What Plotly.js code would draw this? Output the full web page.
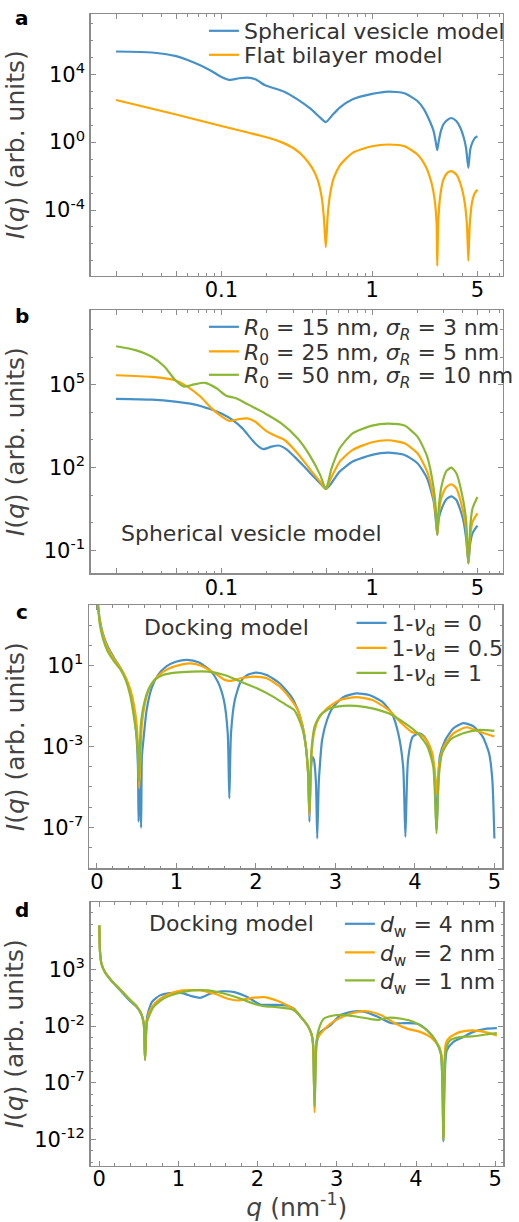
<!DOCTYPE html>
<html><head><meta charset="utf-8">
<script src="https://cdn.plot.ly/plotly-3.0.1.min.js"></script>
<style>html,body{margin:0;padding:0;background:#fff;}#chart{width:519px;height:1222px;}</style>
</head><body><div id="chart"></div>
<script>
// ---------- Panel a ----------
const qVesicleA = [0.02,0.0345,0.0493,0.0657,0.0841,0.1,0.113,0.131,0.149,0.168,0.195,0.221,0.263,0.32,0.39,0.453,0.493,0.539,0.61,0.743,1.0,1.28,1.64,2.0,2.21,2.44,2.56,2.64,2.706,2.77,2.86,2.97,3.15,3.36,3.62,3.85,4.06,4.2,4.352,4.48,4.64,4.83,5.0];
const IVesicleA = [2.19e5,1.91e5,1.20e5,4.9e4,1.74e4,6.9e3,4.7e3,5.8e3,6.3e3,5.0e3,2.24e3,1.55e3,912,331,93,27.5,15.1,34.7,107,331,692,955,759,263,85,13.8,4.47,1.15,0.339,1.15,4.47,11.0,20.0,26.3,17.4,7.08,1.82,0.468,0.0302,0.372,1.0,1.82,2.24];
const qFlatA = [0.02,0.0493,0.1,0.152,0.205,0.25,0.305,0.354,0.40,0.435,0.462,0.478,0.493,0.507,0.526,0.557,0.61,0.743,1.0,1.28,1.64,2.0,2.264,2.463,2.60,2.679,2.706,2.746,2.83,2.972,3.155,3.364,3.624,3.904,4.121,4.267,4.352,4.439,4.597,4.806,5.0];
const IFlatA = [302,43.7,8.91,3.55,1.82,1.0,0.407,0.129,0.0302,6.17e-3,6.46e-4,4.27e-5,6.46e-7,4.27e-5,8.13e-4,7.76e-3,0.0417,0.234,0.575,0.724,0.575,0.186,0.038,4.9e-3,4.07e-4,1.7e-5,5.13e-8,1.7e-5,6.46e-4,6.17e-3,0.0155,0.0195,0.0123,2.51e-3,2.57e-4,1.07e-5,1.05e-7,1.07e-5,2.57e-4,1.0e-3,1.58e-3];
const namesA = ['Spherical vesicle model','Flat bilayer model'];

// ---------- Panel b ----------
const qB15 = [0.02,0.0345,0.0493,0.0657,0.0841,0.1,0.119,0.138,0.160,0.177,0.190,0.215,0.240,0.269,0.305,0.354,0.410,0.464,0.493,0.525,0.61,0.743,1.0,1.28,1.64,2.0,2.32,2.563,2.639,2.706,2.773,2.9,3.124,3.364,3.624,4.0,4.205,4.352,4.483,4.642,5.0];
const IB15 = [3.09e4,2.88e4,2.45e4,1.95e4,1.32e4,9.12e3,5.25e3,2.63e3,1.0e3,575,468,575,631,468,251,110,46.8,23.4,17.0,23.4,72.4,166,288,347,288,145,40.7,5.89,1.48,0.372,1.48,3.39,7.41,9.12,6.76,1.48,0.282,0.0347,0.186,0.427,0.794];
const qB25 = [0.02,0.0345,0.0493,0.0594,0.0725,0.0841,0.0975,0.113,0.131,0.149,0.168,0.195,0.226,0.263,0.32,0.39,0.453,0.493,0.539,0.61,0.743,1.0,1.28,1.64,2.0,2.32,2.563,2.639,2.706,2.773,2.9,3.124,3.364,3.624,4.0,4.205,4.352,4.483,4.642,5.0];
const IB25 = [2.19e5,1.91e5,1.45e5,8.51e4,3.72e4,1.58e4,7.94e3,4.9e3,5.75e3,6.03e3,4.57e3,2.29e3,1.45e3,1.0e3,331,83.2,30.9,17.0,46.8,166,437,832,977,759,331,72.4,7.76,2.24,0.372,2.24,8.91,20.4,25.1,17.8,2.95,0.631,0.0347,0.355,1.12,2.24];
const qB50 = [0.02,0.0269,0.0345,0.042,0.0493,0.0566,0.0657,0.078,0.0929,0.1077,0.125,0.152,0.195,0.25,0.32,0.39,0.453,0.493,0.539,0.61,0.743,1.0,1.28,1.64,2.0,2.32,2.563,2.639,2.706,2.773,2.9,3.124,3.364,3.624,4.0,4.205,4.352,4.483,4.642,5.0];
const IB50 = [2.45e6,1.78e6,1.02e6,4.47e5,1.48e5,8.51e4,1.02e5,1.17e5,7.41e4,3.98e4,3.24e4,1.86e4,9.12e3,3.98e3,1.15e3,251,53.7,17.0,95.5,501,1.74e3,3.31e3,3.89e3,3.31e3,1.32e3,251,17.8,3.98,0.372,3.98,23.4,77.6,100,63.1,7.76,1.26,0.0347,0.794,3.39,8.71];
const namesB = ['<i>R</i><sub>0</sub> = 15 nm, <i>σ</i><sub><i>R</i></sub> = 3 nm',
                '<i>R</i><sub>0</sub> = 25 nm, <i>σ</i><sub><i>R</i></sub> = 5 nm',
                '<i>R</i><sub>0</sub> = 50 nm, <i>σ</i><sub><i>R</i></sub> = 10 nm'];

// ---------- Panel c ----------
const qC0 = [0.012,0.033,0.073,0.135,0.217,0.298,0.36,0.421,0.461,0.494,0.515,0.523,0.535,0.555,0.565,0.584,0.625,0.686,0.767,0.869,0.991,1.135,1.278,1.42,1.52,1.596,1.645,1.665,1.686,1.734,1.808,1.89,2.004,2.135,2.297,2.444,2.526,2.588,2.628,2.656,2.673,2.69,2.71,2.73,2.755,2.771,2.79,2.803,2.832,2.894,2.974,3.097,3.26,3.424,3.587,3.709,3.79,3.852,3.88,3.913,3.974,4.056,4.117,4.18,4.24,4.272,4.313,4.382,4.485,4.607,4.73,4.852,4.933,4.974,5.0];
const IC0 = [1.1e4,2.29e3,417,91.2,24.0,7.59,2.45,0.437,0.0661,4.57e-3,1e-4,1.91e-7,3.16e-5,9.55e-8,3.16e-4,2.14e-3,0.0661,0.776,3.55,9.33,16.2,20.0,15.1,6.31,1.66,0.204,4.57e-3,2.75e-6,4.57e-3,0.204,1.66,3.55,4.68,3.55,1.38,0.302,0.0661,0.01,1e-3,4.79e-5,1.91e-7,6.31e-5,3.16e-4,2.19e-4,1.58e-5,2.82e-8,1.58e-5,1e-4,2.14e-3,0.0209,0.0955,0.282,0.437,0.363,0.17,0.0447,4.57e-3,1e-4,3.39e-8,2.19e-4,3.16e-3,4.57e-3,3.16e-3,1e-3,1e-4,7.41e-8,3.16e-4,2.14e-3,8.13e-3,0.0145,0.0105,3.16e-3,4.68e-4,2.24e-5,2.82e-8];
const qC05 = [0.012,0.033,0.073,0.135,0.217,0.298,0.36,0.421,0.461,0.502,0.531,0.563,0.604,0.666,0.767,0.91,1.073,1.175,1.318,1.481,1.604,1.685,1.808,1.971,2.135,2.297,2.46,2.526,2.588,2.628,2.656,2.673,2.698,2.73,2.79,2.894,3.056,3.26,3.464,3.668,3.831,3.954,4.076,4.158,4.219,4.252,4.272,4.301,4.362,4.485,4.648,4.81,5.0];
const IC05 = [1.1e4,1.91e3,347,75.9,21.4,7.59,2.75,0.646,0.141,0.01,8.51e-6,0.01,0.141,0.955,3.16,7.59,12.0,13.5,10,4.37,2.04,1.82,2.45,2.95,2.45,0.955,0.17,0.0661,0.01,1e-3,4.79e-5,3.63e-7,3.16e-4,4.57e-3,0.0251,0.0794,0.204,0.282,0.204,0.0661,0.0145,5.5e-3,3.8e-3,1.78e-3,4.68e-4,4.79e-5,4.9e-6,1e-4,1e-3,4.57e-3,9.12e-3,5.5e-3,3.16e-3];
const qC1 = [0.012,0.033,0.073,0.135,0.217,0.298,0.36,0.421,0.47,0.51,0.527,0.55,0.584,0.645,0.727,0.829,0.991,1.196,1.40,1.604,1.808,2.012,2.215,2.379,2.481,2.526,2.588,2.628,2.656,2.673,2.698,2.738,2.811,2.934,3.097,3.26,3.464,3.668,3.872,4.035,4.158,4.231,4.272,4.301,4.342,4.443,4.607,4.81,5.0];
const IC1 = [1.1e4,1.32e3,234,51.3,16.2,6.31,2.04,0.302,0.0209,1.48e-3,1.82e-5,0.01,0.0955,0.646,2.04,3.55,4.68,5.25,5.25,3.55,1.66,0.776,0.302,0.117,0.0661,0.0309,6.76e-3,1e-3,4.79e-5,6.03e-7,6.76e-4,0.01,0.0372,0.0794,0.105,0.105,0.0794,0.0447,0.0145,4.57e-3,1e-3,1e-4,5.01e-8,3.24e-5,4.68e-4,2.14e-3,4.57e-3,6.76e-3,6.03e-3];
const namesC = ['1-<i>ν</i><sub>d</sub> = 0','1-<i>ν</i><sub>d</sub> = 0.5','1-<i>ν</i><sub>d</sub> = 1'];

// ---------- Panel d ----------
const qD4 = [0.003,0.012,0.03,0.074,0.155,0.237,0.319,0.40,0.482,0.531,0.564,0.58,0.605,0.666,0.768,0.891,1.05,1.176,1.278,1.40,1.544,1.707,1.871,2.034,2.198,2.361,2.463,2.549,2.631,2.68,2.70,2.72,2.745,2.794,2.917,3.039,3.203,3.366,3.529,3.693,3.856,4.02,4.142,4.244,4.314,4.346,4.387,4.469,4.592,4.714,4.877,5.02];
const ID4 = [7.6e6,3.39e4,3.16e3,575,100,24,5.62,1.41,0.417,0.123,0.0162,1.07e-5,0.0617,1.32,5.13,8.13,8.13,4.17,3.16,7.08,11.5,10,3.63,0.813,0.759,0.661,0.339,0.0617,0.0115,2.09e-3,2.75e-4,6.31e-10,2.75e-4,2.95e-3,0.0115,0.0871,0.195,0.174,0.0617,0.0182,0.0182,0.0162,4.17e-3,5.5e-4,3.63e-5,7.08e-13,7.08e-5,3.89e-4,1.07e-3,2.95e-3,5.75e-3,6.61e-3];
const qD2 = [0.003,0.012,0.03,0.074,0.155,0.237,0.319,0.40,0.482,0.531,0.564,0.58,0.605,0.666,0.768,0.891,1.05,1.278,1.462,1.626,1.748,1.912,2.075,2.239,2.402,2.463,2.549,2.631,2.68,2.70,2.72,2.745,2.794,2.917,3.08,3.244,3.407,3.57,3.734,3.897,4.06,4.183,4.285,4.326,4.346,4.375,4.428,4.55,4.714,4.877,5.02];
const ID2 = [7.6e6,3.39e4,3.16e3,575,107,27.5,7.08,1.82,0.479,0.123,0.0162,1.07e-5,0.0316,0.479,2.57,7.08,14.1,14.1,7.08,2.57,1.82,2.95,3.63,1.82,0.55,0.295,0.0617,0.0115,2.09e-3,2.75e-4,2.57e-10,5.5e-4,2.09e-3,0.0162,0.0708,0.174,0.195,0.0871,0.0182,5.75e-3,2.95e-3,1.07e-3,1.95e-4,1.82e-5,1.15e-12,2.75e-4,1.07e-3,2.95e-3,4.17e-3,2.95e-3,1.51e-3];
const qD1 = [0.003,0.012,0.03,0.074,0.155,0.237,0.319,0.40,0.482,0.531,0.564,0.58,0.605,0.686,0.809,0.972,1.176,1.38,1.585,1.789,1.952,2.075,2.239,2.402,2.463,2.549,2.631,2.68,2.70,2.72,2.745,2.774,2.835,2.957,3.08,3.244,3.407,3.529,3.652,3.815,3.979,4.142,4.244,4.314,4.346,4.375,4.428,4.55,4.714,4.877,5.02];
const ID1 = [7.6e6,3.39e4,3.16e3,575,107,27.5,7.08,1.82,0.479,0.123,0.0162,1.07e-5,0.0224,0.479,2.57,7.08,14.1,14.1,7.08,2.57,0.933,0.575,0.479,0.339,0.24,0.0617,0.0115,2.09e-3,2.75e-4,1e-9,5.5e-4,5.75e-3,0.0447,0.0871,0.1,0.0708,0.0447,0.0363,0.055,0.0447,0.0224,4.17e-3,5.5e-4,3.63e-5,8.13e-13,7.08e-5,5.5e-4,1.07e-3,1.23e-3,1.82e-3,2.4e-3];
const namesD = ['<i>d</i><sub>w</sub> = 4 nm','<i>d</i><sub>w</sub> = 2 nm','<i>d</i><sub>w</sub> = 1 nm'];

// ---------- Ticks ----------
const xLogMajor = [0.02,0.05,0.1,0.5,1,5];
const xLogMajorText = ['','','0.1','','1','5'];
const xLogMinor = [0.03,0.04,0.06,0.07,0.08,0.09,0.2,0.3,0.4,0.6,0.7,0.8,0.9,2,3,4,6,7];
const yMajorA = [1e-4,1,1e4];
const yMajorAText = ['10<sup>-4</sup>','10<sup>0</sup>','10<sup>4</sup>'];
const yMajorB = [0.1,100,1e5];
const yMajorBText = ['10<sup>-1</sup>','10<sup>2</sup>','10<sup>5</sup>'];
const yMajorC = [1e-7,1e-3,10];
const yMajorCText = ['10<sup>-7</sup>','10<sup>-3</sup>','10<sup>1</sup>'];
const yMajorD = [1e-12,1e-7,1e-2,1e3];
const yMajorDText = ['10<sup>-12</sup>','10<sup>-7</sup>','10<sup>-2</sup>','10<sup>3</sup>'];
const xLinMajor = [0,1,2,3,4,5];
const xLinMajorText = ['0','1','2','3','4','5'];
const panelLetters = ['a','b','c','d'];

// ---------- Layout ----------
const W = 519, H = 1222;
const px = v => v / W, py = v => 1 - v / H;
const FONT = 'DejaVu Sans, sans-serif';
const COLORS = ['#4691c8', '#ffa500', '#8ab833'];
const FRAME = '#8c8c8c';

function decadeList(a, b) { const v = []; for (let e = a; e <= b; e++) v.push(Number('1e' + e)); return v; }
function linMinor(a, b, step) { const v = []; for (let i = Math.round(a / step); i <= Math.round(b / step); i++) v.push(+(i * step).toFixed(4)); return v; }

function axis(extra) {
  return Object.assign({
    showline: true, linecolor: FRAME, linewidth: 1.5, mirror: 'allticks',
    ticks: 'inside', ticklen: 5, tickwidth: 1, tickcolor: FRAME,
    showgrid: false, zeroline: false, tickmode: 'array', fixedrange: true,
    tickfont: {family: FONT, size: 21, color: '#000'}
  }, extra);
}
function minor(vals) { return {tickmode: 'array', tickvals: vals, ticks: 'inside', ticklen: 2.5, tickwidth: 1, tickcolor: FRAME, showgrid: false}; }
const yTitle = (st) => ({text: '<i>I</i>(<i>q</i>) (arb. units)', font: {family: FONT, size: 25, color: '#444'}, standoff: st});

const layout = {
  width: W, height: H, margin: {l: 0, r: 0, t: 0, b: 0},
  paper_bgcolor: '#fff', plot_bgcolor: '#fff', font: {family: FONT, color: '#333'},
  showlegend: true,
  xaxis: axis({type: 'log', domain: [px(93.5), px(517.7)], range: [Math.log10(0.0136), Math.log10(7.36)], anchor: 'y',
    tickvals: xLogMajor, ticktext: xLogMajorText, minor: minor(xLogMinor), ticklabelstandoff: -5}),
  yaxis: axis({type: 'log', domain: [py(275.5), py(14)], range: [-7.86, 7.55], anchor: 'x',
    tickvals: yMajorA, ticktext: yMajorAText, minor: minor(decadeList(-7, 7)), title: yTitle(12)}),
  xaxis2: axis({type: 'log', domain: [px(93.5), px(517.7)], range: [Math.log10(0.0136), Math.log10(7.36)], anchor: 'y2',
    tickvals: xLogMajor, ticktext: xLogMajorText, minor: minor(xLogMinor), ticklabelstandoff: -5}),
  yaxis2: axis({type: 'log', domain: [py(573.3), py(310)], range: [-1.82, 7.70], anchor: 'x2',
    tickvals: yMajorB, ticktext: yMajorBText, minor: minor(decadeList(-1, 7)), title: yTitle(12)}),
  xaxis3: axis({domain: [px(91.7), px(517.3)], range: [-0.1, 5.1], anchor: 'y3',
    tickvals: xLinMajor, ticktext: xLinMajorText, minor: minor(linMinor(0, 5, 0.2)), ticklabelstandoff: -6}),
  yaxis3: axis({type: 'log', domain: [py(868.3), py(605)], range: [-9.03, 4.02], anchor: 'x3',
    tickvals: yMajorC, ticktext: yMajorCText, minor: minor(decadeList(-9, 4)), title: yTitle(10)}),
  xaxis4: axis({domain: [px(93.3), px(518)], range: [-0.107, 5.098], anchor: 'y4',
    tickvals: xLinMajor, ticktext: xLinMajorText, minor: minor(linMinor(0, 5, 0.2)), ticklabelstandoff: -6,
    title: {text: '<i>q</i> (nm<sup>-1</sup>)', font: {family: FONT, size: 25, color: '#444'}, standoff: 14}}),
  yaxis4: axis({type: 'log', domain: [py(1165.7), py(902)], range: [-14.3, 8.94], anchor: 'x4',
    tickvals: yMajorD, ticktext: yMajorDText, minor: minor(decadeList(-14, 8)), title: yTitle(3)}),
  annotations: [],
};

// panel letters
[18, 316, 612, 910].forEach((y, i) => layout.annotations.push({
  xref: 'paper', yref: 'paper', x: px(23), y: py(y), xanchor: 'center', yanchor: 'middle', showarrow: false,
  text: '<b>' + panelLetters[i] + '</b>', font: {family: FONT, size: 20, color: '#000'}
}));
// in-plot labels
[['Spherical vesicle model', 123, 533], ['Docking model', 146.5, 627], ['Docking model', 151.5, 923]].forEach(a =>
  layout.annotations.push({xref: 'paper', yref: 'paper', x: px(a[1]), y: py(a[2]), xanchor: 'left', yanchor: 'middle',
    showarrow: false, text: a[0], font: {family: FONT, size: 22, color: '#333'}}));

// one legend per entry so each row sits where the reference has it
const traces = [];
let legendIndex = 0;
function addLegend(xText, yRow) {
  legendIndex++;
  const key = legendIndex === 1 ? 'legend' : 'legend' + legendIndex;
  layout[key] = {x: px(xText - 40), y: py(yRow), xanchor: 'left', yanchor: 'middle', bgcolor: 'rgba(0,0,0,0)',
    borderwidth: 0, itemwidth: 30, font: {family: FONT, size: 22, color: '#333'}};
  return key;
}
function addSeries(xa, ya, q, I, name, color, legendX, legendY) {
  traces.push({type: 'scatter', mode: 'lines', x: q, y: I, xaxis: xa, yaxis: ya, name: name,
    line: {color: color, width: 2.2, shape: 'spline', smoothing: 0.6}, legend: addLegend(legendX, legendY), hoverinfo: 'skip'});
}
addSeries('x', 'y', qVesicleA, IVesicleA, namesA[0], COLORS[0], 250, 31);
addSeries('x', 'y', qFlatA, IFlatA, namesA[1], COLORS[1], 250, 55);
addSeries('x2', 'y2', qB15, IB15, namesB[0], COLORS[0], 250, 327);
addSeries('x2', 'y2', qB25, IB25, namesB[1], COLORS[1], 250, 351.5);
addSeries('x2', 'y2', qB50, IB50, namesB[2], COLORS[2], 250, 375);
addSeries('x3', 'y3', qC0, IC0, namesC[0], COLORS[0], 402, 623);
addSeries('x3', 'y3', qC05, IC05, namesC[1], COLORS[1], 402, 648);
addSeries('x3', 'y3', qC1, IC1, namesC[2], COLORS[2], 402, 673);
addSeries('x4', 'y4', qD4, ID4, namesD[0], COLORS[0], 390, 924);
addSeries('x4', 'y4', qD2, ID2, namesD[1], COLORS[1], 390, 952.5);
addSeries('x4', 'y4', qD1, ID1, namesD[2], COLORS[2], 390, 980.5);

Plotly.newPlot('chart', traces, layout, {staticPlot: true, displayModeBar: false});
</script></body></html>
